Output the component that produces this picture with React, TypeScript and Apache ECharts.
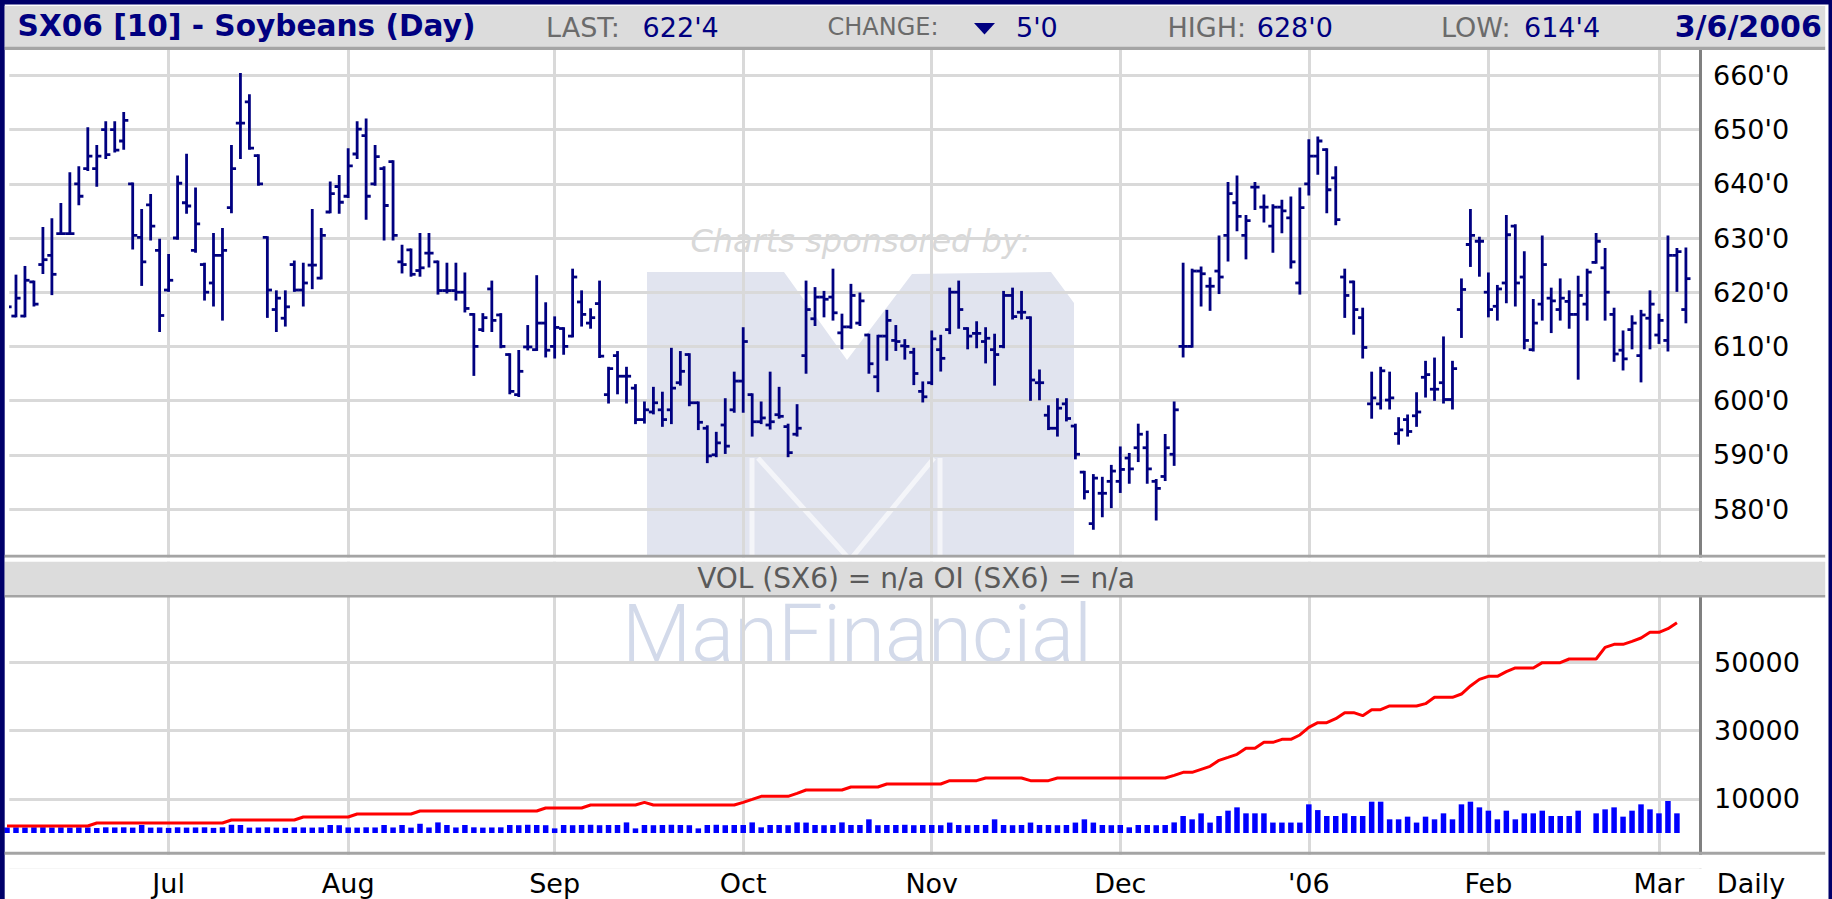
import React, { useEffect, useRef } from "react";
import * as echarts from "echarts";

const NAVY = "#000080";
const FRAME = "#00006a";
const GRIDC = "#d9d9d9";
const FONT = "DejaVu Sans";

// Trading-day OHLC (Jun 7 2005 .. Mar 6 2006), index = trading day
const opens = [
  617.0,615.6,615.6,621.9,625.1,626.8,630.8,630.8,640.0,642.8,
  642.8,650.0,650.0,647.9,640.0,630.1,636.1,627.7,620.4,630.0,
  636.5,627.7,625.1,621.7,626.8,635.6,651.2,655.1,645.2,630.1,
  616.8,615.2,625.1,620.4,625.0,622.6,634.8,639.5,637.7,645.5,
  648.9,640.0,642.8,644.1,625.6,627.8,624.0,627.2,625.6,620.3,
  620.3,620.0,615.9,613.1,620.6,615.8,608.5,601.1,609.9,609.4,
  614.3,610.0,613.3,611.9,618.2,614.3,617.9,601.1,608.3,604.5,
  602.3,596.5,597.9,598.3,598.3,603.3,608.5,599.6,594.9,590.0,
  595.5,598.3,603.6,601.1,596.1,595.5,597.4,595.2,593.8,608.3,
  615.1,619.1,619.1,612.5,613.6,614.3,612.1,604.4,611.9,611.1,
  610.1,608.9,601.7,603.3,609.4,613.1,620.0,613.3,612.4,610.9,
  609.4,610.0,619.4,616.3,615.3,603.3,597.3,594.9,599.4,595.3,
  586.8,577.3,582.9,585.1,585.1,589.4,591.3,591.3,585.1,586.0,
  590.1,610.0,610.0,623.9,621.1,623.9,630.5,636.5,630.5,639.4,
  635.7,632.2,635.7,633.7,621.7,640.0,645.1,646.3,641.1,622.8,
  621.9,615.3,599.4,599.4,600.1,593.9,596.5,597.2,604.3,602.1,
  603.3,600.2,616.8,628.8,629.4,620.0,617.4,621.7,632.2,622.8,
  609.4,617.8,618.9,616.8,618.3,615.9,617.8,625.5,624.5,615.9,
  609.3,613.1,608.3,615.2,612.1,611.1,626.8,616.8
];
const highs = [
  618.0,623.0,624.6,621.9,631.8,633.4,636.2,641.9,643.0,650.2,
  646.9,651.3,651.3,653.0,640.0,635.1,637.9,629.6,626.8,641.3,
  645.3,639.1,625.2,630.7,631.6,646.9,660.2,656.3,645.2,630.1,
  620.1,620.1,625.6,625.2,635.1,631.6,640.2,641.4,646.3,651.3,
  651.8,646.9,643.0,644.1,628.5,627.8,630.7,630.7,625.6,625.2,
  625.2,623.4,615.9,615.9,621.9,615.9,608.5,609.1,613.7,622.9,
  617.9,615.3,613.3,624.1,620.1,616.8,621.9,606.0,608.9,606.0,
  602.8,599.6,602.3,601.4,609.5,608.9,608.5,599.6,595.2,594.0,
  600.2,605.1,613.3,601.1,599.6,605.1,602.3,595.5,599.1,621.9,
  620.7,620.0,624.1,615.8,621.3,619.7,612.1,611.9,616.5,613.7,
  611.1,609.5,603.3,612.7,611.9,620.6,621.9,613.3,614.4,613.3,
  612.1,620.0,620.6,620.0,615.3,605.5,598.9,600.2,600.2,595.5,
  586.8,586.2,585.7,587.9,591.3,590.1,595.5,594.2,585.3,593.6,
  599.6,625.2,624.1,624.5,622.5,630.2,640.1,641.3,634.0,640.1,
  637.8,636.0,636.8,637.4,639.1,648.0,648.5,646.3,643.0,624.1,
  621.9,616.9,605.1,606.0,605.1,596.7,597.2,601.3,607.1,607.7,
  611.6,607.1,622.3,635.1,630.0,623.4,621.1,634.0,632.3,627.3,
  618.5,630.2,620.6,622.3,620.1,622.8,624.1,630.7,627.9,616.9,
  612.7,615.5,616.5,620.1,615.8,630.2,627.9,628.0
];
const lows = [
  616.5,615.6,615.6,617.6,623.6,619.7,630.8,630.8,636.3,642.6,
  639.7,644.8,646.0,646.5,628.1,621.4,629.8,612.9,620.3,629.9,
  634.7,627.5,618.7,617.6,615.0,634.8,644.8,646.5,639.9,615.5,
  612.9,613.9,620.3,617.6,620.8,622.6,634.8,634.7,637.6,644.8,
  633.6,639.9,629.8,629.8,623.7,623.1,623.1,624.8,619.8,620.0,
  618.7,616.5,604.8,612.9,612.9,609.9,601.4,600.9,609.5,609.4,
  608.2,608.0,608.7,611.9,613.9,613.5,608.1,599.7,601.4,599.7,
  595.9,596.0,597.7,595.4,595.9,603.0,599.2,594.8,588.7,589.8,
  590.4,598.0,598.0,593.6,595.9,594.9,596.9,589.8,593.6,605.2,
  614.0,615.6,615.0,609.7,613.5,614.0,605.2,601.8,607.6,609.4,
  607.8,603.1,599.9,603.1,605.6,612.5,613.5,609.7,609.9,607.1,
  603.0,609.9,615.2,615.2,600.2,600.3,594.8,593.6,596.4,589.4,
  582.0,576.4,578.7,580.4,583.2,584.9,588.9,584.9,578.1,585.4,
  588.2,608.2,610.0,617.6,616.8,619.9,625.9,631.5,626.3,635.4,
  633.1,627.5,631.1,624.6,619.8,638.1,641.9,634.8,632.6,615.5,
  612.4,608.0,596.9,598.6,598.6,592.1,593.6,595.4,600.8,600.2,
  599.7,598.6,611.8,624.9,623.1,615.6,615.0,618.2,617.6,609.7,
  609.3,615.0,612.7,615.0,613.5,604.1,615.0,625.5,615.0,607.4,
  605.8,609.7,603.6,609.7,610.7,609.3,620.3,614.5
];
const closes = [
  617.3,618.9,622.2,617.8,626.0,623.3,630.8,630.8,637.7,645.1,
  645.1,645.4,646.2,651.7,630.5,625.6,632.2,615.7,622.2,640.1,
  635.9,632.6,620.0,626.8,627.7,642.8,651.2,646.6,640.0,620.4,
  618.9,617.3,620.4,621.7,625.0,630.5,638.2,636.6,643.3,650.1,
  637.7,645.0,636.0,630.5,625.1,623.3,624.5,627.2,620.3,620.3,
  620.0,617.0,610.0,615.3,614.8,610.0,601.7,605.4,609.9,614.3,
  609.3,613.5,610.0,622.8,615.9,615.3,608.2,605.9,604.5,604.5,
  596.5,598.3,599.6,596.5,602.3,605.4,599.6,596.0,589.8,592.2,
  591.6,603.6,610.9,596.1,596.8,596.1,597.1,590.4,594.9,616.8,
  619.1,618.7,616.2,613.6,619.4,618.4,606.8,611.9,614.8,610.9,
  610.0,605.0,600.7,611.4,607.8,620.0,616.8,611.9,612.4,611.5,
  608.5,619.4,615.5,616.3,603.8,603.3,594.9,598.6,596.7,590.1,
  583.2,585.7,582.9,587.0,587.3,587.4,593.8,587.4,583.8,591.3,
  598.3,610.0,623.9,623.4,621.1,622.8,638.2,634.0,633.2,639.4,
  635.7,635.7,635.0,625.6,635.6,645.1,647.9,638.9,633.4,619.4,
  616.8,609.8,600.5,605.5,600.5,594.6,594.3,597.9,604.8,602.1,
  600.2,605.9,620.5,630.5,629.4,616.8,620.6,630.6,621.7,611.1,
  614.3,625.1,618.4,618.9,615.9,619.4,623.7,629.4,620.0,608.6,
  607.7,614.3,615.8,617.8,614.8,626.8,627.5,622.5
];
const volume = [
  1600,1660,1620,1660,1700,1620,1660,1580,1660,1620,
  1450,1660,1620,1660,1580,2340,1580,1620,1500,1660,
  1580,1620,1660,1500,1660,2400,2340,1580,1620,1660,
  1580,1500,1660,1620,1580,1660,2340,2280,1620,1580,
  1660,1620,2340,1620,2340,1580,2700,1620,3100,2340,
  1620,2340,1660,1580,1620,1660,2340,2280,2400,2340,
  2280,1350,2340,2280,2340,2400,2280,2340,2340,3100,
  1350,2340,2280,2340,2400,2340,2280,1350,2340,2400,
  2280,2340,2340,3100,1660,2340,2340,2280,3100,3050,
  2340,2280,2340,3100,2340,2340,4000,2280,2340,2340,
  2400,2280,2340,2340,2280,3050,2340,2280,2340,2340,
  4000,2340,2280,2340,3050,2340,2340,2280,2340,3050,
  4000,3050,2340,2280,2340,1660,2340,2340,2280,2340,
  3100,4970,4000,5750,3050,4970,6530,7500,5750,5750,
  5750,3050,3050,3050,3050,8380,6700,4970,4970,5750,
  4970,4970,9160,9160,4000,4000,4780,3050,4780,4000,
  5750,4000,8380,9160,7500,6530,4000,6530,4000,5750,
  5750,6530,4970,4970,4970,6530,0,5750,6920,7500,
  4780,6530,8380,6920,5750,9360,5750
];
const openInterest = [
  2050,2050,2050,2050,2050,2050,2050,2050,2050,2050,
  2920,2920,2920,2920,2920,2920,2920,2920,2920,2920,
  2920,2920,2920,2920,2920,3800,3800,3800,3800,3800,
  3800,3800,3800,4680,4680,4680,4680,4680,4680,5560,
  5560,5560,5560,5560,5560,5560,6430,6430,6430,6430,
  6430,6430,6430,6430,6430,6430,6430,6430,6430,6430,
  7310,7310,7310,7310,7310,8190,8190,8190,8190,8190,
  8190,8970,8190,8190,8190,8190,8190,8190,8190,8190,
  8190,8190,8970,9840,10720,10720,10720,10720,11600,12570,
  12570,12570,12570,12570,13450,13450,13450,13450,14330,14330,
  14330,14330,14330,14330,14330,15300,15300,15300,15300,16080,
  16080,16080,16080,16080,15300,15300,15300,16080,16080,16080,
  16080,16080,16080,16080,16080,16080,16080,16080,16080,16080,
  16860,17740,17740,18620,19490,21250,22120,23000,24760,24760,
  26510,26510,27390,27390,28660,30900,32260,32260,33430,35190,
  35190,34310,36060,36060,37140,37140,37140,37140,37820,39670,
  39670,39670,40640,43000,44930,45810,45810,47170,48250,48250,
  48250,49810,49810,49810,50880,50880,50880,50880,54290,55170,
  55170,56040,57020,58670,58670,59750,61500
];
const monthIndex = [18, 38, 61, 82, 103, 124, 145, 165, 184];
const monthLabels = ["Jul", "Aug", "Sep", "Oct", "Nov", "Dec", "'06", "Feb", "Mar"];
const lastPrice = 622.5;

const fmtPrice = (v: number) => {
  const w = Math.floor(v + 1e-6);
  const e = Math.round((v - w) * 8);
  return `${w}'${e}`;
};

const rect = (x: number, y: number, w: number, h: number, fill: string, z = 100) => ({
  type: "rect", z, silent: true, shape: { x, y, width: w, height: h }, style: { fill },
});
const txt = (x: number, y: number, text: string, fill: string, size: number, opts: any = {}) => ({
  type: "text", x, y, z: opts.z ?? 101, silent: true,
  style: {
    text, fill, fontSize: size, fontFamily: opts.family ?? FONT, fontWeight: opts.weight ?? "normal",
    fontStyle: opts.style ?? "normal", lineHeight: opts.lineHeight,
    textAlign: opts.align ?? "left", align: opts.align ?? "left",
    textVerticalAlign: "middle", verticalAlign: "middle",
  },
});
const wline = (points: number[][]) => ({
  type: "polyline", z: -9, silent: true, shape: { points },
  style: { stroke: "#f4f5f9", lineWidth: 5, fill: null },
});

export default function App() {
  const ref = useRef<HTMLDivElement>(null);
  useEffect(() => {
    document.body.style.margin = "0";
    const chart = echarts.init(ref.current!, null, { renderer: "svg" });
    const ohlc = opens.map((o, i) => [i, o, highs[i], lows[i], closes[i]]);
    const vol = volume.map((v, i) => [i, v]);
    const oi = openInterest.map((v, i) => [i, v]);
    const X_MIN = 0.256, X_MAX = 188.57;

    const option: any = {
      animation: false,
      backgroundColor: "#ffffff",
      textStyle: { fontFamily: FONT },
      grid: [
        { left: 9.3, top: 48.3, width: 1690.7, height: 514.9 },
        { left: 9.3, top: 593.6, width: 1690.7, height: 273.6 },
      ],
      xAxis: [
        { type: "value", gridIndex: 0, min: X_MIN, max: X_MAX, show: false },
        { type: "value", gridIndex: 1, min: X_MIN, max: X_MAX, show: false },
      ],
      yAxis: [
        {
          type: "value", gridIndex: 0, position: "right", min: 570, max: 665, interval: 10,
          axisLine: { show: true, onZero: false, lineStyle: { color: "#808080", width: 3 } },
          axisTick: { show: false },
          splitLine: { show: true, lineStyle: { color: GRIDC, width: 3 } },
          axisLabel: {
            margin: 13, color: "#000", fontSize: 27, fontFamily: FONT, padding: [6, 0, 0, 0],
            formatter: (v: number) => (v >= 575 && v <= 660 ? fmtPrice(v) : ""),
          },
        },
        {
          type: "value", gridIndex: 1, position: "right", min: -10000, max: 70000, interval: 20000,
          axisLine: { show: true, onZero: false, lineStyle: { color: "#808080", width: 3 } },
          axisTick: { show: false },
          splitLine: { show: true, lineStyle: { color: GRIDC, width: 3 } },
          axisLabel: {
            margin: 14, color: "#000", fontSize: 27, fontFamily: FONT, padding: [6, 0, 0, 0],
            formatter: (v: number) => (v > 0 && v < 60000 ? String(v) : ""),
          },
        },
      ],
      series: [
        {
          type: "line", xAxisIndex: 0, yAxisIndex: 0, data: [], silent: true, z: 1,
          markLine: {
            silent: true, z: 1, symbol: ["none", "none"], animation: false,
            lineStyle: { color: GRIDC, width: 3, type: "solid" },
            label: { show: false }, emphasis: { disabled: true },
            data: monthIndex.map((v) => ({ xAxis: v })),
          },
        },
        {
          type: "line", xAxisIndex: 1, yAxisIndex: 1, data: [], silent: true, z: 1,
          markLine: {
            silent: true, z: 1, symbol: ["none", "none"], animation: false,
            lineStyle: { color: GRIDC, width: 3, type: "solid" },
            label: {
              show: true, position: "start", distance: 3, color: "#000", fontSize: 27,
              fontFamily: FONT, formatter: "{b}",
            },
            emphasis: { disabled: true },
            data: monthIndex.map((v, k) => ({ xAxis: v, name: monthLabels[k] })),
          },
        },
        {
          type: "custom", xAxisIndex: 0, yAxisIndex: 0, z: 3, clip: true, silent: true,
          data: ohlc,
          encode: { x: 0, y: [1, 2, 3, 4] },
          renderItem: (params: any, api: any) => {
            const i = api.value(0);
            const pO = api.coord([i, api.value(1)]);
            const pH = api.coord([i, api.value(2)]);
            const pL = api.coord([i, api.value(3)]);
            const pC = api.coord([i, api.value(4)]);
            const x = pH[0];
            const st = { stroke: NAVY, lineWidth: 2.8, fill: null };
            return {
              type: "group",
              children: [
                { type: "line", shape: { x1: x, y1: pH[1] - 1.3, x2: x, y2: pL[1] + 1.3 }, style: st },
                { type: "line", shape: { x1: x - 4.6, y1: pO[1], x2: x, y2: pO[1] }, style: st },
                { type: "line", shape: { x1: x, y1: pC[1], x2: x + 4.6, y2: pC[1] }, style: st },
              ],
            };
          },
        },
        {
          type: "line", xAxisIndex: 0, yAxisIndex: 0, data: [], silent: true, z: 5,
          markLine: {
            silent: true, z: 5, symbol: ["none", "none"], animation: false,
            lineStyle: { opacity: 0, width: 0 },
            label: {
              show: true, position: "end", distance: 5, formatter: fmtPrice(lastPrice),
              backgroundColor: NAVY, color: "#fff", padding: [4, 8, 4, 8], width: 104,
              fontSize: 27, lineHeight: 28, fontFamily: FONT,
            },
            emphasis: { disabled: true },
            data: [{ yAxis: lastPrice }],
          },
        },
        {
          type: "bar", xAxisIndex: 1, yAxisIndex: 1, data: vol, barWidth: 5.5, z: 3, silent: true,
          itemStyle: { color: "#0000ff" },
        },
        {
          type: "line", xAxisIndex: 1, yAxisIndex: 1, data: oi, z: 4, silent: true,
          symbol: "none", lineStyle: { color: "#ff0000", width: 3 },
        },
      ],
      graphic: [
        // watermark
        txt(861, 241, "Charts sponsored by:", "#d8d8d8", 32, { align: "center", style: "italic", z: -10 }),
        {
          type: "polygon", z: -10, silent: true,
          shape: { points: [[647, 272], [784, 272], [847, 360], [912, 274], [1051, 272], [1074, 303], [1074, 556], [647, 556]] },
          style: { fill: "#e1e4ef" },
        },
        wline([[752, 458], [752, 556]]),
        wline([[758, 458], [850, 560], [934, 458]]),
        wline([[940, 458], [940, 556]]),
        txt(857, 634, "ManFinancial", "#d3daea", 80, { align: "center", family: "Roboto", weight: 300, lineHeight: 56, z: -10 }),
        // frame
        rect(0, 0, 1832, 4.5, FRAME),
        rect(0, 0, 4.7, 899, FRAME),
        rect(1828.5, 0, 3.5, 899, FRAME),
        // title band
        rect(4.7, 6, 1820.5, 41, "#dcdcdc"),
        rect(4.7, 46.7, 1820.5, 3.2, "#a4a4a4"),
        // separator / vol band
        rect(4.7, 554.7, 1820.5, 3, "#a4a4a4"),
        rect(4.7, 557.7, 1820.5, 4, "#ffffff"),
        rect(4.7, 561.7, 1820.5, 33.5, "#dcdcdc"),
        rect(4.7, 595, 1820.5, 2.5, "#a4a4a4"),
        // bottom of volume panel
        rect(4.7, 851.7, 1820.5, 3, "#a4a4a4"),
        rect(4.7, 854.7, 1823.8, 14, "#ffffff", 99),
        // header texts
        txt(17.6, 25.5, "SX06 [10] - Soybeans (Day)", NAVY, 29.6, { weight: "bold" }),
        txt(546, 27, "LAST:", "#6b6b6b", 27),
        txt(642.6, 27, "622'4", NAVY, 27),
        txt(827.5, 27, "CHANGE:", "#6b6b6b", 24),
        { type: "polygon", z: 101, silent: true, shape: { points: [[974, 23], [995, 23], [984.5, 34.5]] }, style: { fill: NAVY } },
        txt(1016, 27, "5'0", NAVY, 27),
        txt(1167.5, 27, "HIGH:", "#6b6b6b", 27),
        txt(1256.7, 27, "628'0", NAVY, 27),
        txt(1441, 27, "LOW:", "#6b6b6b", 27),
        txt(1524, 27, "614'4", NAVY, 27),
        txt(1674.7, 26.5, "3/6/2006", NAVY, 30, { weight: "bold" }),
        txt(916, 578, "VOL (SX6) = n/a OI (SX6) = n/a", "#5a5a5a", 28, { align: "center", lineHeight: 28 }),
        txt(1751, 883, "Daily", "#000", 27, { align: "center" }),
      ],
    };
    chart.setOption(option);
    return () => chart.dispose();
  }, []);
  return <div ref={ref} style={{ width: 1832, height: 899, background: "#fff" }} />;
}
